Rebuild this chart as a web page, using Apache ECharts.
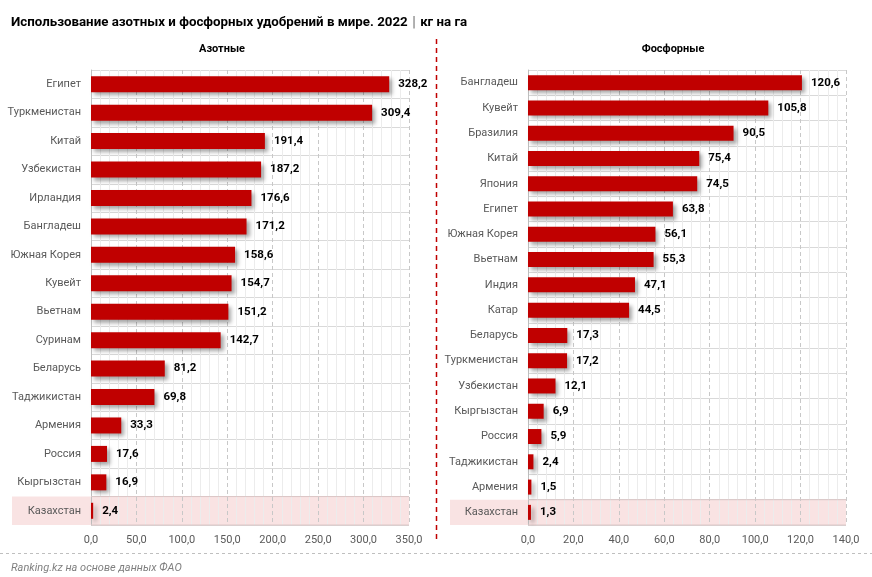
<!DOCTYPE html>
<html><head><meta charset="utf-8">
<script src="https://cdn.jsdelivr.net/npm/echarts@6/dist/echarts.min.js"></script>
<style>html,body{margin:0;padding:0;background:#fff}#c{width:872px;height:577px}</style>
</head><body><div id="c"></div>
<script>
const nCats = ['Египет','Туркменистан','Китай','Узбекистан','Ирландия','Бангладеш','Южная Корея','Кувейт','Вьетнам','Суринам','Беларусь','Таджикистан','Армения','Россия','Кыргызстан','Казахстан'];
const nVals = [328.2,309.4,191.4,187.2,176.6,171.2,158.6,154.7,151.2,142.7,81.2,69.8,33.3,17.6,16.9,2.4];
const pCats = ['Бангладеш','Кувейт','Бразилия','Китай','Япония','Египет','Южная Корея','Вьетнам','Индия','Катар','Беларусь','Туркменистан','Узбекистан','Кыргызстан','Россия','Таджикистан','Армения','Казахстан'];
const pVals = [120.6,105.8,90.5,75.4,74.5,63.8,56.1,55.3,47.1,44.5,17.3,17.2,12.1,6.9,5.9,2.4,1.5,1.3];
const highlight = 'Казахстан';
const FONT = 'Roboto, "Noto Sans", sans-serif';
const fmt = v => v.toFixed(1).replace('.', ',');

function xAx(idx, max, interval) {
  return {
    type: 'value', gridIndex: idx, min: 0, max: max, interval: interval,
    axisLine: {show: false}, axisTick: {show: false},
    axisLabel: {formatter: v => fmt(v), color: '#595959', fontSize: 11, fontFamily: FONT, margin: 10},
    splitLine: {show: true, lineStyle: {color: '#c8c8c8', type: [4, 3], width: 1}},
    minorTick: {show: false, splitNumber: 5},
    minorSplitLine: {show: true, lineStyle: {color: '#ececec', width: 1}}
  };
}
function yAx(idx, cats) {
  return {
    type: 'category', gridIndex: idx, data: cats, inverse: true,
    axisLine: {show: true, lineStyle: {color: '#bfbfbf'}}, axisTick: {show: false},
    axisLabel: {color: '#595959', fontSize: 11, fontFamily: FONT, margin: 10},
    splitLine: {show: true, lineStyle: {color: '#d9d9d9', width: 1}}
  };
}
function barSeries(idx, vals, bw) {
  return {
    type: 'bar', xAxisIndex: idx, yAxisIndex: idx, data: vals, barWidth: bw, z: 3,
    itemStyle: {color: '#C00000', shadowColor: 'rgba(0,0,0,0.35)', shadowBlur: 4, shadowOffsetX: 3, shadowOffsetY: 3},
    label: {show: true, position: 'right', distance: 9, formatter: p => fmt(p.value), color: '#000', fontWeight: 'bold', fontSize: 11.5, fontFamily: FONT}
  };
}
const chart = echarts.init(document.getElementById('c'), null, {renderer: 'canvas'});
const grids = [{left: 91, top: 70, width: 318, height: 455}, {left: 528, top: 70, width: 318, height: 455}];
chart.setOption({
  animation: false,
  textStyle: {fontFamily: FONT},
  title: [
    {text: '{b|Использование азотных и фосфорных удобрений в мире. 2022} {s||} {n|кг на га}', left: 6, top: 9,
      textStyle: {rich: {b: {fontSize: 13.3, fontWeight: 'bold', color: '#000', fontFamily: FONT}, s: {fontSize: 14, color: '#7f7f7f', fontFamily: FONT}, n: {fontSize: 13.3, color: '#000', fontFamily: FONT}}}},
    {text: 'Азотные', left: 217, top: 39, textAlign: 'center', textStyle: {fontSize: 11, fontWeight: 'bold', color: '#000', fontFamily: FONT}},
    {text: 'Фосфорные', left: 668, top: 39, textAlign: 'center', textStyle: {fontSize: 11, fontWeight: 'bold', color: '#000', fontFamily: FONT}},
    {text: 'Ranking.kz на основе данных ФАО', left: 6, top: 558, textStyle: {fontSize: 11, fontStyle: 'italic', fontWeight: 'normal', color: '#7f7f7f', fontFamily: FONT}}
  ],
  grid: grids,
  xAxis: [xAx(0, 350, 50), xAx(1, 140, 20)],
  yAxis: [yAx(0, nCats), yAx(1, pCats)],
  series: [barSeries(0, nVals, 16), barSeries(1, pVals, 15)]
});

function addGraphics() {
  const els = [];
  const specs = [{idx: 0, cats: nCats, x0: 12}, {idx: 1, cats: pCats, x0: 450}];
  specs.forEach(s => {
    const g = grids[s.idx];
    const band = g.height / s.cats.length;
    const cy = chart.convertToPixel({yAxisIndex: s.idx}, highlight);
    els.push({type: 'rect', z: -1, shape: {x: s.x0, y: cy - band / 2, width: g.left + g.width - s.x0, height: band},
      style: {fill: '#f9e3e3', stroke: null}});
    els.push({type: 'line', z: 1, shape: {x1: g.left, y1: cy - band / 2, x2: g.left + g.width, y2: cy - band / 2}, style: {stroke: '#dcc6c6', lineWidth: 1}});
    els.push({type: 'line', z: 1, shape: {x1: g.left, y1: cy + band / 2, x2: g.left + g.width, y2: cy + band / 2}, style: {stroke: '#dcc6c6', lineWidth: 1}});
  });
  els.push({type: 'line', shape: {x1: 436.5, y1: 39, x2: 436.5, y2: 539}, style: {stroke: '#C00000', lineWidth: 1.5, lineDash: [5, 4]}});
  els.push({type: 'line', shape: {x1: 0, y1: 553.5, x2: 872, y2: 553.5}, style: {stroke: '#bfbfbf', lineWidth: 1, lineDash: [3, 3]}});
  chart.setOption({graphic: els});
}
addGraphics();
</script></body></html>
